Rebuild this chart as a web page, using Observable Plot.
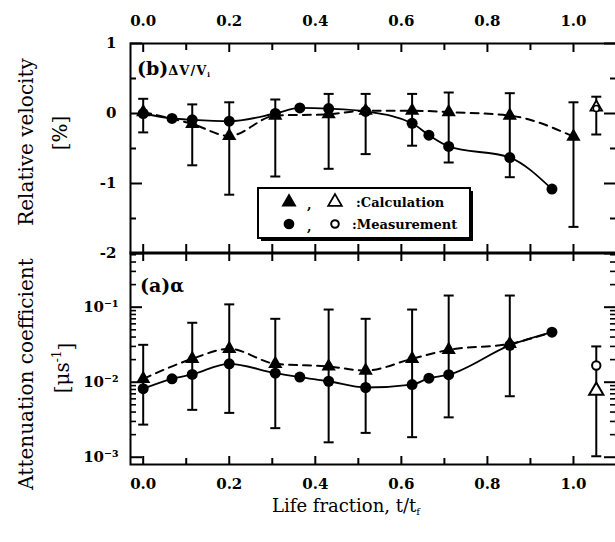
<!DOCTYPE html>
<html><head><meta charset="utf-8">
<script src="https://cdn.jsdelivr.net/npm/d3@7"></script>
<script src="https://cdn.jsdelivr.net/npm/@observablehq/plot@0.6"></script>
<style>
body{margin:0;background:#fff;}
#fig{position:relative;width:615px;height:542px;overflow:hidden;background:#fff;}
#fig > svg{position:absolute;left:0;}
</style></head><body><div id="fig"></div>
<script>
// ---- data ----
// x positions (life fraction t/tf)
const calcX   = [0.0, 0.114, 0.20, 0.307, 0.431, 0.517, 0.625, 0.710, 0.852, 1.0];
// (b) relative velocity, calculation (filled triangles) with error bars [%]
const calcV   = [0.02, -0.15, -0.32, -0.03, -0.01, 0.04, 0.04, 0.02, -0.03, -0.33];
const calcVLo = [-0.27, -0.74, -1.16, -0.90, -0.79, -0.58, -0.46, -0.70, -0.91, -1.62];
const calcVHi = [0.21, 0.13, 0.16, 0.20, 0.28, 0.28, 0.28, 0.30, 0.29, 0.16];
// (b) measurement (filled circles)
const measX   = [0.0, 0.067, 0.114, 0.20, 0.307, 0.364, 0.431, 0.517, 0.625, 0.664, 0.710, 0.852, 0.950];
const measV   = [0.0, -0.07, -0.09, -0.11, 0.0, 0.08, 0.07, 0.03, -0.14, -0.31, -0.47, -0.63, -1.08];
// (a) attenuation coefficient [1/us], calculation
const calcAX  = [0.0, 0.114, 0.20, 0.307, 0.431, 0.517, 0.625, 0.710, 0.852];
const calcA   = [0.0111, 0.0205, 0.0279, 0.0176, 0.0162, 0.0143, 0.0205, 0.027, 0.0325];
const calcALo = [0.00272, 0.00428, 0.0039, 0.00244, 0.00158, 0.00211, 0.00185, 0.0034, 0.0065];
const calcAHi = [0.0315, 0.062, 0.109, 0.070, 0.093, 0.070, 0.093, 0.143, 0.143];
const calcATailX = [0.950];
const calcATail  = [0.0464];
// (a) measurement
const measA   = [0.0082, 0.0111, 0.0127, 0.0176, 0.0132, 0.0117, 0.0103, 0.0085, 0.0093, 0.0113, 0.0126, 0.031, 0.0464];
// open symbols (separate specimen)
const openX      = [1.053];
const openCalcV  = [0.09];
const openMeasV  = [0.07];
const openVLo    = [-0.30];
const openVHi    = [0.24];
const openCalcA  = [0.0077];
const openMeasA  = [0.0167];
const openALo    = [0.00103];
const openAHi    = [0.030];
// ticks
const xMajor = [0.0, 0.2, 0.4, 0.6, 0.8, 1.0];
const xMinor = [0.1, 0.3, 0.5, 0.7, 0.9];
const vMajor = [-2, -1, 0, 1];
const vMinor = [-1.5, -0.5, 0.5];
const aMajor = [0.001, 0.01, 0.1];
const aMinor = [0.002,0.003,0.004,0.005,0.006,0.007,0.008,0.009,
                0.02,0.03,0.04,0.05,0.06,0.07,0.08,0.09,
                0.2,0.3,0.4,0.5];

// ---- tables ----
const calcTop = calcX.map((x,i)=>({x, v: calcV[i], lo: calcVLo[i], hi: calcVHi[i]}));
const measTop = measX.map((x,i)=>({x, v: measV[i]}));
const calcBot = calcAX.map((x,i)=>({x, v: calcA[i], lo: calcALo[i], hi: calcAHi[i]}));
const calcBotLine = calcBot.concat(calcATailX.map((x,i)=>({x, v: calcATail[i]})));
const measBot = measX.map((x,i)=>({x, v: measA[i]}));
const openTop = openX.map((x,i)=>({x, c: openCalcV[i], m: openMeasV[i], lo: openVLo[i], hi: openVHi[i]}));
const openBot = openX.map((x,i)=>({x, c: openCalcA[i], m: openMeasA[i], lo: openALo[i], hi: openAHi[i]}));

const FONT = "DejaVu Serif";
const cap = {draw(ctx){ ctx.moveTo(-5,0); ctx.lineTo(5,0); }};
const W = 620, ML = 130, MR = 4, FW = W - ML - MR;
const common = {
  width: W, marginLeft: ML, marginRight: MR,
  x: {domain: [-0.0295, 1.1], label: null},
  style: {maxWidth: "none", background: "transparent", overflow: "visible", fontFamily: FONT}
};
const tickFont = {fontSize: 15, fontWeight: "bold", fontFamily: FONT, label: null};
const fmtV = d => d < 0 ? "-" + Math.abs(d) : String(d);
const sup = {"-":"⁻","1":"¹","2":"²","3":"³"};
const fmtA = d => "10" + String(Math.round(Math.log10(d))).split("").map(c=>sup[c]).join("");
const CURVE = "monotone-x";

function errorMarks(data, y1, y2){
  return [
    Plot.ruleX(data, {x:"x", y1, y2, strokeWidth: 2}),
    Plot.dot(data, {x:"x", y: y1, symbol: cap, fill: "none", stroke: "black", strokeWidth: 2}),
    Plot.dot(data, {x:"x", y: y2, symbol: cap, fill: "none", stroke: "black", strokeWidth: 2})
  ];
}

// ---- top panel (b) ----
const FHt = 210;
const topPlot = Plot.plot({
  ...common, height: 254, marginTop: 43, marginBottom: 1,
  y: {domain: [-2, 1], label: null},
  marks: [
    Plot.tickX(xMajor, {x: d=>d, insetBottom: FHt-9, strokeWidth: 2}),
    Plot.tickX(xMinor, {x: d=>d, insetBottom: FHt-7, strokeWidth: 2}),
    Plot.tickX(xMajor.concat(xMinor), {x: d=>d, insetTop: FHt-9, strokeWidth: 2}),
    Plot.tickY(vMajor, {y: d=>d, insetRight: FW-12, strokeWidth: 2}),
    Plot.tickY(vMinor, {y: d=>d, insetRight: FW-6, strokeWidth: 2}),
    Plot.tickY(vMajor, {y: d=>d, insetLeft: FW-12, strokeWidth: 2}),
    Plot.tickY(vMinor, {y: d=>d, insetLeft: FW-6, strokeWidth: 2}),
    Plot.axisX({anchor: "top", ticks: xMajor, tickSize: 0, tickPadding: 18, tickFormat: d3.format(".1f"), ...tickFont}),
    Plot.axisY({anchor: "left", ticks: vMajor, tickSize: 0, tickPadding: 14, tickFormat: fmtV, ...tickFont}),
    Plot.line(measTop, {x:"x", y:"v", curve: CURVE, strokeWidth: 1.8}),
    Plot.line(calcTop, {x:"x", y:"v", curve: CURVE, strokeWidth: 2, strokeDasharray: "8,6"}),
    ...errorMarks(calcTop, "lo", "hi"),
    ...errorMarks(openTop, "lo", "hi"),
    Plot.dot(measTop, {x:"x", y:"v", r: 5.5, fill: "black"}),
    Plot.dot(calcTop, {x:"x", y:"v", symbol: "triangle", r: 5.3, fill: "black"}),
    Plot.dot(openTop, {x:"x", y:"c", symbol: "triangle", r: 4.3, fill: "white", stroke: "black", strokeWidth: 1.8}),
    Plot.dot(openTop, {x:"x", y:"m", r: 3, fill: "white", stroke: "black", strokeWidth: 1.5}),
    Plot.frame({strokeWidth: 2})
  ]
});
topPlot.style.top = "0px";

// ---- bottom panel (a) ----
const FHb = 212;
const botPlot = Plot.plot({
  ...common, height: 302, marginTop: 12, marginBottom: 78,
  y: {type: "log", domain: [Math.pow(10, -3.097), Math.pow(10, -0.271)], label: null},
  marks: [
    Plot.tickX(xMajor.concat(xMinor), {x: d=>d, insetBottom: FHb-9, strokeWidth: 2}),
    Plot.tickX(xMajor, {x: d=>d, insetTop: FHb-8, strokeWidth: 2}),
    Plot.tickX(xMinor, {x: d=>d, insetTop: FHb-6, strokeWidth: 2}),
    Plot.tickY(aMajor, {y: d=>d, insetRight: FW-12, strokeWidth: 2}),
    Plot.tickY(aMinor, {y: d=>d, insetRight: FW-6, strokeWidth: 1.6}),
    Plot.tickY(aMajor, {y: d=>d, insetLeft: FW-12, strokeWidth: 2}),
    Plot.tickY(aMinor, {y: d=>d, insetLeft: FW-6, strokeWidth: 1.6}),
    Plot.axisX({anchor: "bottom", ticks: xMajor, tickSize: 0, tickPadding: 14, tickFormat: d3.format(".1f"), ...tickFont}),
    Plot.axisY({anchor: "left", ticks: aMajor, tickSize: 0, tickPadding: 12, tickFormat: fmtA, ...tickFont}),
    Plot.line(measBot, {x:"x", y:"v", curve: CURVE, strokeWidth: 1.8}),
    Plot.line(calcBotLine, {x:"x", y:"v", curve: CURVE, strokeWidth: 2, strokeDasharray: "8,6"}),
    ...errorMarks(calcBot, "lo", "hi"),
    ...errorMarks(openBot, "lo", "hi"),
    Plot.dot(measBot, {x:"x", y:"v", r: 5.5, fill: "black"}),
    Plot.dot(calcBot, {x:"x", y:"v", symbol: "triangle", r: 5.3, fill: "black"}),
    Plot.dot(openBot, {x:"x", y:"c", symbol: "triangle", r: 5.3, fill: "white", stroke: "black", strokeWidth: 2}),
    Plot.dot(openBot, {x:"x", y:"m", r: 4.2, fill: "white", stroke: "black", strokeWidth: 2}),
    Plot.frame({strokeWidth: 2})
  ]
});
botPlot.style.top = "240px";

const fig = document.getElementById("fig");
fig.appendChild(botPlot);
fig.appendChild(topPlot);

// ---- overlay: titles, panel labels, legend ----
const ov = d3.select(fig).append("svg")
  .attr("width", 615).attr("height", 542)
  .style("position", "absolute").style("top", "0px").style("left", "0px")
  .style("font-family", FONT);

function rotText(x, y, txt, size){
  return ov.append("text").attr("transform", `translate(${x},${y}) rotate(-90)`)
    .attr("text-anchor", "middle").attr("dominant-baseline", "central")
    .style("font-size", size + "px").text(txt);
}
rotText(26, 142, "Relative velocity", 20);
rotText(60, 133, "[%]", 20);
rotText(26, 374, "Attenuation coefficient", 20);
const mu = ov.append("text").attr("transform", "translate(62,368) rotate(-90)")
  .attr("text-anchor", "middle").attr("dominant-baseline", "central").style("font-size", "20px");
mu.append("tspan").text("[μs");
mu.append("tspan").attr("dy", "-0.45em").style("font-size", "12px").text("-1");
mu.append("tspan").attr("dy", "0.45em").text("]");

const xt = ov.append("text").attr("x", 346).attr("y", 512).attr("text-anchor", "middle").style("font-size", "18px");
xt.append("tspan").text("Life fraction, t/t");
xt.append("tspan").attr("dy", "0.3em").style("font-size", "10px").text("f");

const lb = ov.append("text").attr("x", 137).attr("y", 75).style("font-weight", "bold");
lb.append("tspan").style("font-size", "19px").text("(b)");
lb.append("tspan").style("font-size", "13px").style("letter-spacing", "1px").text("ΔV/V");
lb.append("tspan").attr("dy", "0.3em").style("font-size", "7px").text("i");

const la = ov.append("text").attr("x", 140).attr("y", 292).style("font-weight", "bold");
la.append("tspan").style("font-size", "19px").text("(a)");
la.append("tspan").style("font-size", "18px").text("α");

// legend
const L = ov.append("g");
L.append("rect").attr("x", 261).attr("y", 191).attr("width", 212).attr("height", 50).attr("fill", "black");
L.append("rect").attr("x", 258).attr("y", 188).attr("width", 212).attr("height", 50)
  .attr("fill", "white").attr("stroke", "black").attr("stroke-width", 2);
const tri = d3.symbol(d3.symbolTriangle, 100)();
const triS = d3.symbol(d3.symbolTriangle, 80)();
const cir = d3.symbol(d3.symbolCircle, 90)();
const cirS = d3.symbol(d3.symbolCircle, 45)();
L.append("path").attr("d", tri).attr("transform", "translate(289,202)").attr("fill", "black");
L.append("path").attr("d", triS).attr("transform", "translate(335,202)").attr("fill", "white").attr("stroke", "black").attr("stroke-width", 1.8);
L.append("path").attr("d", cir).attr("transform", "translate(289,224)").attr("fill", "black");
L.append("path").attr("d", cirS).attr("transform", "translate(335,224)").attr("fill", "white").attr("stroke", "black").attr("stroke-width", 2);
const lt = (x, y, t) => L.append("text").attr("x", x).attr("y", y).style("font-size", "13px").style("font-weight", "bold").text(t);
lt(307, 209, ","); lt(307, 231, ",");
lt(356, 207, ":Calculation");
lt(352, 229, ":Measurement");
</script></body></html>
